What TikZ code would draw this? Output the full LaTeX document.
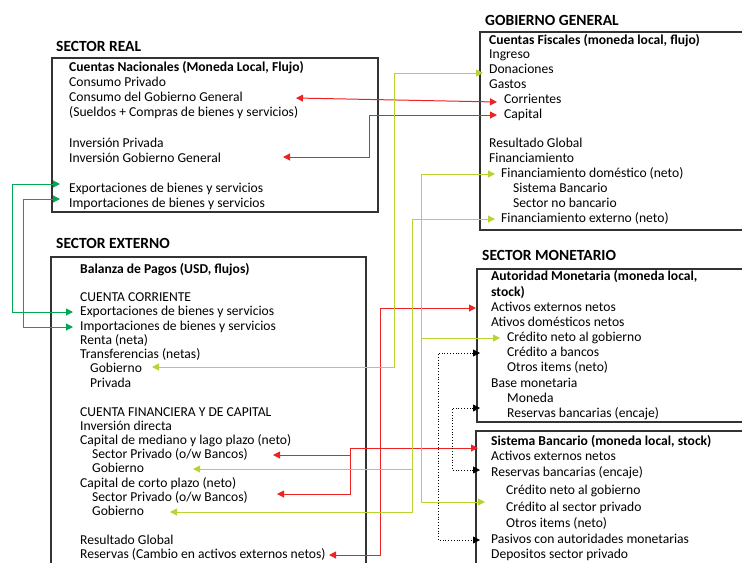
\documentclass[tikz,border=0pt]{standalone}
\usepackage{fontspec}
\setmainfont{Carlito}
\usetikzlibrary{arrows.meta, calc, positioning}

\definecolor{linkred}{RGB}{236,34,36}
\definecolor{linkgreen}{RGB}{0,168,82}
\definecolor{linklime}{RGB}{184,212,48}

\tikzset{
	txt/.style={anchor=west, inner sep=0pt, text height=9.5pt, text depth=2.7pt, font=\fontsize{13.6}{15}\selectfont},
	ttl/.style={anchor=west, inner sep=0pt, font=\fontsize{15.5}{18}\selectfont\bfseries},
	box/.style={draw=black!80, line width=1.1pt},
	tips/.style={{Triangle[length=7pt,width=7pt]}-{Triangle[length=7pt,width=7pt]}},
	tip/.style={-{Triangle[length=7pt,width=7pt]}},
	rojo/.style={draw=linkred, line width=1pt},
	verde/.style={draw=linkgreen, line width=1pt},
	lima/.style={draw=linklime, line width=1pt},
	punto/.style={draw=black, line width=.8pt, dotted}
}

\begin{document}
\begin{tikzpicture}[x=1pt,y=-1pt]

	\useasboundingbox (0,0) rectangle (742,563);

	% cajas
	\draw[box] (52,58) rectangle (378,212);
	\draw[box] (51,563) -- (51,257) -- (366,257) -- (366,563);
	\draw[box] (742,32) -- (480,32) -- (480,230) -- (742,230);
	\draw[box] (742,269) -- (477,269) -- (477,422) -- (742,422);
	\draw[box] (742,431) -- (476,431) -- (476,563);

	\node[ttl] (tReal) at (56,46) {SECTOR REAL};
	\node[ttl] (tExt) at (56,243) {SECTOR EXTERNO};
	\node[ttl] (tGob) at (485,20) {GOBIERNO GENERAL};
	\node[ttl] (tMon) at (482,255) {SECTOR MONETARIO};

	\foreach \n/\x/\y/\t in {
		rT/69/68/{\bfseries Cuentas Nacionales (Moneda Local, Flujo)},
		r1/69/83/{Consumo Privado},
		r2/69/98/{Consumo del Gobierno General},
		r3/69/113/{(Sueldos + Compras de bienes y servicios)},
		r4/69/144/{Inversión Privada},
		r5/69/159/{Inversión Gobierno General},
		r6/69/189/{Exportaciones de bienes y servicios},
		r7/69/204/{Importaciones de bienes y servicios}}
		\node[txt] (\n) at (\x,\y) {\t};

	\foreach \n/\x/\y/\t in {
		eT/80/270/{\bfseries Balanza de Pagos (USD, flujos)},
		e1/80/298/{CUENTA CORRIENTE},
		e2/80/312/{Exportaciones de bienes y servicios},
		e3/80/327/{Importaciones de bienes y servicios},
		e4/80/341/{Renta (neta)},
		e5/80/355/{Transferencias (netas)},
		e6/90/369/{Gobierno},
		e7/90/384/{Privada},
		e8/80/413/{CUENTA FINANCIERA Y DE CAPITAL},
		e9/80/427/{Inversión directa},
		e10/80/441/{Capital de mediano y lago plazo (neto)},
		e11/92/455/{Sector Privado (o/w Bancos)},
		e12/92/469/{Gobierno},
		e13/80/484/{Capital de corto plazo (neto)},
		e14/92/498/{Sector Privado (o/w Bancos)},
		e15/92/512/{Gobierno},
		e16/80/541/{Resultado Global},
		e17/80/555/{Reservas (Cambio en activos externos netos)}}
		\node[txt] (\n) at (\x,\y) {\t};

	\foreach \n/\x/\y/\t in {
		gT/489/41/{\bfseries Cuentas Fiscales (moneda local, flujo)},
		g1/489/55/{Ingreso},
		g2/489/70/{Donaciones},
		g3/489/85/{Gastos},
		g4/504/100/{Corrientes},
		g5/504/115/{Capital},
		g6/489/144/{Resultado Global},
		g7/489/159/{Financiamiento},
		g8/501/174/{Financiamiento doméstico (neto)},
		g9/513/189/{Sistema Bancario},
		g10/513/204/{Sector no bancario},
		g11/501/219/{Financiamiento externo (neto)}}
		\node[txt] (\n) at (\x,\y) {\t};

	\foreach \n/\x/\y/\t in {
		mT/491/277/{\bfseries Autoridad Monetaria (moneda local,},
		mT2/491/293/{\bfseries stock)},
		m1/491/308/{Activos externos netos},
		m2/491/323/{Ativos domésticos netos},
		m3/507/338/{Crédito neto al gobierno},
		m4/507/353/{Crédito a bancos},
		m5/507/368/{Otros items (neto)},
		m6/491/384/{Base monetaria},
		m7/507/399/{Moneda},
		m8/507/414/{Reservas bancarias (encaje)},
		bT/491/442/{\bfseries Sistema Bancario (moneda local, stock)},
		b1/491/457/{Activos externos netos},
		b2/491/473/{Reservas bancarias (encaje)},
		b3/506/491/{Crédito neto al gobierno},
		b4/506/508/{Crédito al sector privado},
		b5/506/524/{Otros items (neto)},
		b6/491/540/{Pasivos con autoridades monetarias},
		b7/491/555/{Depositos sector privado}}
		\node[txt] (\n) at (\x,\y) {\t};

	% puntas de flecha
	\coordinate (cRConsGob) at ([xshift=227pt]r2.west);
	\coordinate (cGCorr) at ([xshift=-7pt,yshift=-2pt]g4.west);
	\coordinate (cGCap) at ([xshift=-7pt]g5.west);
	\coordinate (cRInvGob) at ([xshift=214pt,yshift=2pt]r5.west);
	\coordinate (cERes) at ([xshift=249pt]e17.west);
	\coordinate (cMAEN) at ([xshift=-15pt]m1.west);
	\coordinate (cBTit) at ([xshift=-13pt,yshift=-6pt]bT.west);
	\coordinate (cEMedPriv) at ([xshift=181pt]e11.west);
	\coordinate (cECorPriv) at ([xshift=185pt,yshift=4pt]e14.west);
	\coordinate (kPriv) at ([xshift=-128pt]cBTit);

	\coordinate (cRExp) at ([xshift=-9pt,yshift=5pt]r6.west);
	\coordinate (cRImp) at ([xshift=-9pt,yshift=5pt]r7.west);
	\coordinate (cEExp) at ([xshift=-7pt]e2.west);
	\coordinate (cEImp) at ([xshift=-7pt]e3.west);

	\coordinate (cGDon) at ([xshift=-6pt,yshift=-3pt]g2.west);
	\coordinate (cETrGob) at ([xshift=62pt,yshift=2pt]e6.west);
	\coordinate (cGFinDom) at ([xshift=-6pt]g8.west);
	\coordinate (cMCredGob) at ([xshift=-7pt]m3.west);
	\coordinate (cBCred) at ([xshift=-21pt,yshift=6pt]b4.west);
	\coordinate (kDom) at ([xshift=-74pt]cGFinDom);
	\coordinate (cGFinExt) at ([xshift=-6pt]g11.west);
	\coordinate (cEMedGob) at ([xshift=101pt]e12.west);
	\coordinate (cECorGob) at ([xshift=78pt]e15.west);
	\coordinate (kExt) at ([xshift=-83pt]cGFinExt);

	\coordinate (cMCredBanc) at ([xshift=-27pt]m4.west);
	\coordinate (cBPas) at ([xshift=-11pt]b6.west);
	\coordinate (cMRes) at ([xshift=-27pt,yshift=6pt]m8.west);
	\coordinate (cBRes) at ([xshift=-11pt,yshift=3pt]b2.west);

	% conectores
	\draw[rojo, tips] (cRConsGob) -- (cGCorr);
	\draw[rojo, tips] (cGCap) -- ++(-128,0) |- (cRInvGob);
	\draw[rojo, tips] (cERes) -- ++(51,0) |- (cMAEN);
	\draw[rojo, tips] (cBTit) -- (kPriv) |- (cECorPriv);
	\draw[rojo, tip] (kPriv |- cEMedPriv) -- (cEMedPriv);

	\draw[verde, tips] (cRExp) -- ++(-48,0) |- (cEExp);
	\draw[verde, tips] (cRImp) -- ++(-37,0) |- (cEImp);

	\draw[lima, tips] (cGDon) -- ++(-89,0) |- (cETrGob);
	\draw[lima, tips] (cGFinDom) -- (kDom) |- (cBCred);
	\draw[lima, tip] (kDom |- cMCredGob) -- (cMCredGob);
	\draw[lima, tips] (cGFinExt) -- (kExt) |- (cECorGob);
	\draw[lima, tip] (kExt |- cEMedGob) -- (cEMedGob);

	\draw[punto, tips] (cMCredBanc) -- ++(-42,0) |- (cBPas);
	\draw[punto, tips] (cMRes) -- ++(-28,0) |- (cBRes);

\end{tikzpicture}
\end{document}
